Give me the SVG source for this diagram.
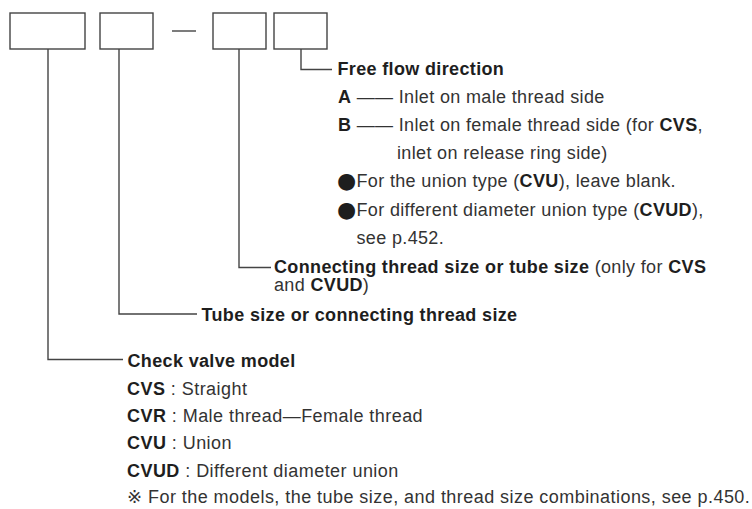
<svg xmlns="http://www.w3.org/2000/svg" width="752" height="509" viewBox="0 0 752 509">
<style>
.box{fill:#fff;stroke:#444;stroke-width:1.4}
.ln{fill:none;stroke:#444;stroke-width:1.4}
text{font-family:"Liberation Sans",Arial,Helvetica,sans-serif;font-size:18px;letter-spacing:0.35px;fill:#333}
.b{font-weight:bold;fill:#1e1e1e}
.sym{font-family:"DejaVu Sans","Noto Sans CJK JP",sans-serif;letter-spacing:0}
.bul{font-family:"DejaVu Sans",sans-serif;font-size:22px;letter-spacing:0;fill:#1e1e1e}
.lo{letter-spacing:0.45px}
</style>
<rect width="752" height="509" fill="#fff"/>
<g id="box-model"><rect class="box" x="10" y="13" width="75" height="36"/></g>
<g id="box-tube"><rect class="box" x="100" y="13" width="53" height="36"/></g>
<g id="dash"><line class="ln" x1="172" y1="31" x2="196" y2="31"/></g>
<g id="box-thread"><rect class="box" x="213" y="13" width="53" height="36"/></g>
<g id="box-flow"><rect class="box" x="274" y="13" width="53" height="36"/></g>
<g id="connectors">
<polyline class="ln" points="301,49 301,69.5 332,69.5"/>
<polyline class="ln" points="239,49 239,267.5 271,267.5"/>
<polyline class="ln" points="119,49 119,314 197,314"/>
<polyline class="ln" points="48,49 48,359.5 123,359.5"/>
</g>
<g id="label-flow">
<text x="337.5" y="74.5" class="b">Free flow direction</text>
<text x="338" y="102.5"><tspan class="b">A</tspan> —— Inlet on male thread side</text>
<text x="338" y="131"><tspan class="b">B</tspan> —— Inlet on female thread side (for <tspan class="b">CVS</tspan>,</text>
<text x="397" y="159">inlet on release ring side)</text>
<text x="337" y="188"><tspan class="bul">●</tspan><tspan x="356.5" y="187">For the union type (</tspan><tspan class="b">CVU</tspan>), leave blank.</text>
<text x="337" y="216.5"><tspan class="bul">●</tspan><tspan x="356.5" y="215.5">For different diameter union type (</tspan><tspan class="b">CVUD</tspan>),</text>
<text x="356.5" y="244">see p.452.</text>
</g>
<g id="label-thread">
<text x="274" y="272.5"><tspan class="b">Connecting thread size or tube size</tspan> (only for <tspan class="b">CVS</tspan></text>
<text x="274" y="291">and <tspan class="b">CVUD</tspan>)</text>
</g>
<g id="label-tube">
<text x="201.5" y="321" class="b">Tube size or connecting thread size</text>
</g>
<g id="label-model">
<text x="127.5" y="367" class="b">Check valve model</text>
<text x="127" y="395" class="lo"><tspan class="b">CVS</tspan> : Straight</text>
<text x="127" y="422" class="lo"><tspan class="b">CVR</tspan> : Male thread—Female thread</text>
<text x="127" y="449" class="lo"><tspan class="b">CVU</tspan> : Union</text>
<text x="127" y="477" class="lo"><tspan class="b">CVUD</tspan> : Different diameter union</text>
<text x="127" y="503" class="lo"><tspan class="sym">※</tspan><tspan x="148">For the models, the tube size, and thread size combinations, see p.450.</tspan></text>
</g>
</svg>
